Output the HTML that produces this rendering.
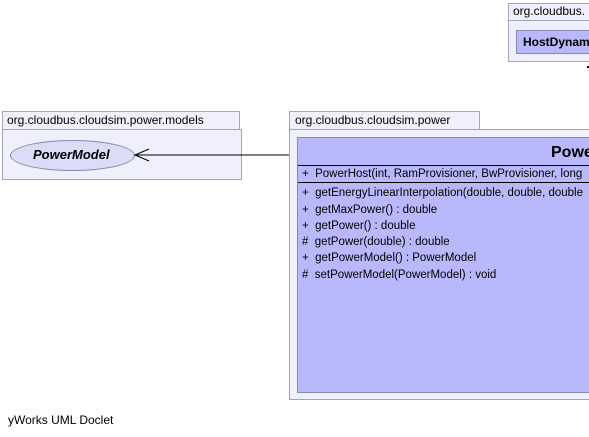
<!DOCTYPE html>
<html><head><style>
html,body{margin:0;padding:0}
body{width:589px;height:437px;background:#fff;position:relative;overflow:hidden;font-family:"Liberation Sans",Arial,sans-serif;font-size:12px;color:#000}
#w{position:absolute;left:0;top:0;width:589px;height:437px;overflow:hidden}
.a{position:absolute;box-sizing:border-box}
.pk{background:#f0f0fc;border:1px solid #a4a4b8}
.cl{background:#b8b8fc;border:1px solid #8888b0;overflow:hidden}
.t{position:absolute;white-space:nowrap}
.row{position:absolute;left:4px;white-space:nowrap;font-size:11.5px}
</style></head><body><div id="w">
<div class="a pk" style="left:508px;top:3px;width:90px;height:18px"></div>
<div class="t" style="left:513px;top:4px">org.cloudbus.</div>
<div class="a pk" style="left:508px;top:20px;width:90px;height:42px"></div>
<div class="a cl" style="left:516px;top:30px;width:80px;height:24px"></div>
<div class="t" style="left:523px;top:35px;font-weight:bold">HostDynamic</div>
<div class="a" style="left:587px;top:66px;width:2px;height:2px;background:#000"></div>

<div class="a pk" style="left:2px;top:111px;width:238px;height:19px"></div>
<div class="t" style="left:7px;top:113px">org.cloudbus.cloudsim.power.models</div>
<div class="a pk" style="left:2px;top:129px;width:240px;height:51px"></div>
<div class="a" style="left:10px;top:140px;width:125px;height:31px;border:1px solid #8888b0;border-radius:50%;background:#dcdcf8"></div>
<div class="t" style="left:33px;top:147px;font-weight:bold;font-style:italic;font-size:13px">PowerModel</div>

<svg class="a" style="left:0;top:0" width="589" height="437">
<line x1="134" y1="155" x2="297" y2="155" stroke="#000" stroke-width="1"/>
<polyline points="149,149 135,155 149,161" fill="none" stroke="#000" stroke-width="1"/>
</svg>

<div class="a pk" style="left:289px;top:111px;width:191px;height:19px"></div>
<div class="t" style="left:295px;top:113px">org.cloudbus.cloudsim.power</div>
<div class="a pk" style="left:289px;top:129px;width:310px;height:271px"></div>
<div class="a cl" style="left:297px;top:137px;width:300px;height:256px">
  <div class="t" style="left:253px;top:6px;font-weight:bold;font-size:16px">PowerHost</div>
  <div class="a" style="left:0;top:27px;width:300px;height:1px;background:#000"></div>
  <div class="row" style="top:30px">+&nbsp; PowerHost(int, RamProvisioner, BwProvisioner, long</div>
  <div class="a" style="left:0;top:44px;width:300px;height:1px;background:#000"></div>
  <div class="row" style="top:49px">+&nbsp; getEnergyLinearInterpolation(double, double, double</div>
  <div class="row" style="top:66px">+&nbsp; getMaxPower() : double</div>
  <div class="row" style="top:82px">+&nbsp; getPower() : double</div>
  <div class="row" style="top:98px">#&nbsp; getPower(double) : double</div>
  <div class="row" style="top:114px">+&nbsp; getPowerModel() : PowerModel</div>
  <div class="row" style="top:131px">#&nbsp; setPowerModel(PowerModel) : void</div>
</div>

<div class="t" style="left:8px;top:413px">yWorks UML Doclet</div>
</div></body></html>
